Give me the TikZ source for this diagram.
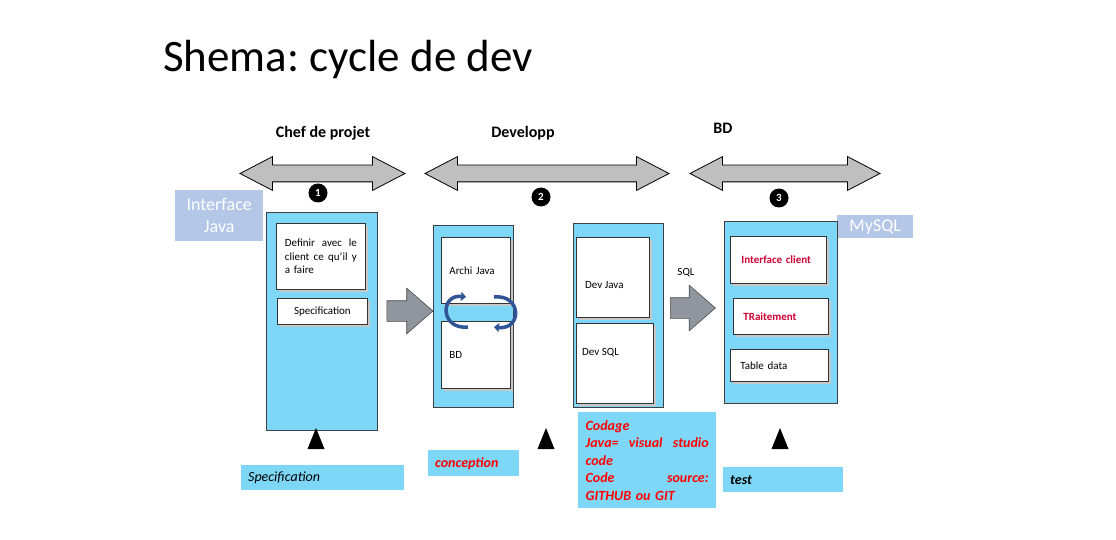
\documentclass[tikz,border=0pt]{standalone}
\usepackage{fontspec}
\setmainfont{Carlito}
\usepackage{xcolor}
\usepackage{tikz}
\usetikzlibrary{positioning}
\usetikzlibrary{shapes.arrows,arrows.meta}
\usetikzlibrary{shadows}
\frenchspacing

\definecolor{panelblue}{RGB}{127,215,247}
\definecolor{tagblue}{RGB}{180,199,231}
\definecolor{phasegray}{RGB}{191,191,191}
\definecolor{stepgray}{RGB}{143,150,157}
\definecolor{swirlblue}{RGB}{47,85,151}
\definecolor{boxred}{RGB}{204,0,51}

\begin{document}
\begin{tikzpicture}[x=1pt,y=-1pt,
    panel/.style={draw=black!75, line width=0.9pt, fill=panelblue, anchor=north west, inner sep=0pt},
    inbox/.style={draw=black!80, line width=0.8pt, fill=white, anchor=north west, inner sep=0pt, align=left,
        drop shadow={shadow xshift=2.5pt, shadow yshift=-2.5pt, fill=black!22, opacity=1},
        font=\fontsize{11}{13.5}\selectfont},
    phase/.style={double arrow, draw=black, line width=0.8pt, fill=phasegray, inner xsep=0pt, inner ysep=8pt,
        minimum width=33pt, minimum height=#1, double arrow head extend=8.5pt, double arrow tip angle=55},
    stepto/.style={single arrow, draw=black!70, line width=0.6pt, fill=stepgray, inner xsep=0pt, inner ysep=10pt,
        minimum width=45pt, minimum height=#1, single arrow head extend=12.5pt, single arrow tip angle=82},
    numdot/.style={circle, fill=black, text=white, inner sep=0pt, minimum size=19pt,
        font=\fontsize{11}{11}\selectfont\bfseries},
    tag/.style={fill=tagblue, text=white, anchor=north west, inner sep=0pt, align=center,
        font=\fontsize{18}{22}\selectfont},
    note/.style={fill=panelblue, anchor=north west, inner sep=0pt, align=left,
        font=\fontsize{14}{17.5}\selectfont\bfseries\itshape},
    head/.style={font=\fontsize{16}{16}\selectfont\bfseries, inner sep=0pt},
    smalltxt/.style={font=\fontsize{11}{13.5}\selectfont, inner sep=0pt},
    swirl/.style={swirlblue, line width=3.5pt, -{Triangle[length=5pt,width=9pt]}}
]
\useasboundingbox (0,0) rectangle (1116,540);

%TITRE
\node[anchor=base west, inner sep=0pt, font=\fontsize{45}{54}\selectfont] (title) at (163,72) {Shema: cycle de dev};

%PHASES
\node[head] (chefhd) at (323,133) {Chef de projet};
\node[head] (devhd) at (523,133) {Developp};
\node[head] (bdhd) at (723,128) {BD};

\node[phase=165pt] (phase1) at (322.5,173.5) {};
\node[phase=244pt] (phase2) at (547,173.5) {};
\node[phase=190pt] (phase3) at (785,173.5) {};

\node[numdot] (n1) at (318,193) {1};
\node[numdot] (n2) at (541,197) {2};
\node[numdot] (n3) at (779,198) {3};

\node[tag, minimum width=88pt, minimum height=51pt] (ijava) at (175,190) {Interface\\Java};
\node[tag, minimum width=76pt, minimum height=23pt] (mysql) at (837,215) {MySQL};

%PANNEAUX
\node[panel, minimum width=111pt, minimum height=218pt] (specpanel) at (266,212) {};
\node[panel, minimum width=80pt, minimum height=182pt] (concpanel) at (433,225) {};
\node[panel, minimum width=90pt, minimum height=184pt] (devpanel) at (573,223) {};
\node[panel, minimum width=113pt, minimum height=182pt] (bdpanel) at (724,221) {};

%BOITES
\node[inbox, minimum width=89pt, minimum height=66pt, text width=72pt] (definir) at (276,223)
    {Definir\hfill avec\hfill le\\client\hfill ce\hfill qu’il\hfill y\\a faire};
\node[inbox, minimum width=90pt, minimum height=26pt] (specbox) at (277,298) {Specification};

\node[inbox, minimum width=69pt, minimum height=66pt, text width=53pt] (archi) at (441,237) {Archi Java};
\node[inbox, minimum width=69pt, minimum height=67pt, text width=53pt] (bdbox) at (441,321) {BD};

\node[inbox, minimum width=73pt, minimum height=80pt] (devjava) at (576,237) {};
\node[inbox, minimum width=77pt, minimum height=80pt] (devsql) at (576,323) {};
\node[smalltxt, right=9pt of devjava.west, yshift=-8pt] (devjavatxt) {Dev Java};
\node[smalltxt, right=6pt of devsql.west, yshift=11pt] (devsqltxt) {Dev SQL};

\node[inbox, minimum width=96pt, minimum height=47pt, text width=74pt, text=boxred, font=\fontsize{11}{13.5}\selectfont\bfseries] (iclient) at (730,236) {Interface client};
\node[inbox, minimum width=95pt, minimum height=36pt, text width=75pt, text=boxred, font=\fontsize{11}{13.5}\selectfont\bfseries] (traite) at (733,298) {TRaitement};
\node[inbox, minimum width=98pt, minimum height=32pt, text width=78pt] (tdata) at (730,349) {Table data};

%FLECHES
\node[stepto=46pt] (step1) at (404,311) {};
\node[stepto=45pt] (step2) at (687,308) {};
\node[smalltxt] (sqllbl) at (686,273) {SQL};

\draw[swirl] (468,327) .. controls (440,330) and (440,294) .. (466,297);
\draw[swirl] (494,297) .. controls (522,294) and (522,330) .. (494,327);

\foreach \x in {316,546,780}
    \fill (\x,428) -- ++(8.5,21) -- ++(-17,0) -- cycle;

%NOTES
\node[note, minimum width=163pt, minimum height=25pt, text width=149pt, font=\fontsize{14}{17.5}\selectfont\itshape] (specnote) at (241,465) {Specification};
\node[note, minimum width=91pt, minimum height=26pt, text width=77pt, text=red] (concnote) at (428,450) {conception};
\node[note, minimum width=138pt, minimum height=96pt, text width=123pt, text=red] (codnote) at (578,412)
    {Codage\\Java=\hfill visual\hfill studio\\code\\Code\hfill source:\\GITHUB ou GIT};
\node[note, minimum width=120pt, minimum height=25pt, text width=106pt] (testnote) at (723,467) {test};
\end{tikzpicture}
\end{document}
